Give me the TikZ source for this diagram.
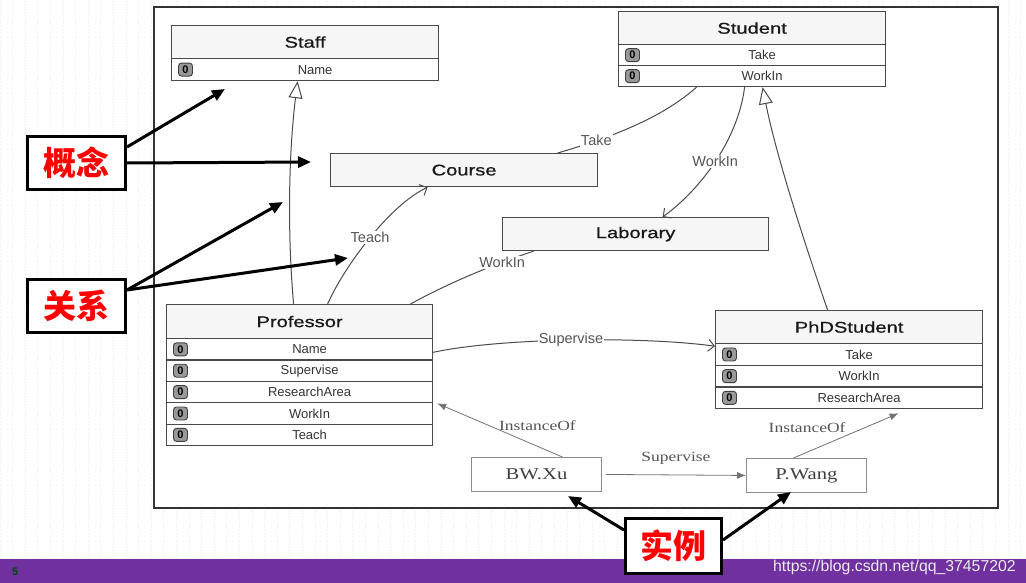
\documentclass[tikz,border=0pt]{standalone}
\usepackage{fontspec}
\setmainfont{Liberation Sans}
\newfontfamily\titlefont[FakeStretch=1.3,FakeBold=0.8]{Liberation Sans}
\newfontfamily\instfont[FakeStretch=1.25]{Liberation Serif}
\newfontfamily\cjkfont{Noto Sans CJK SC}
\usetikzlibrary{arrows.meta}
\definecolor{boxline}{HTML}{4A4A4A}
\definecolor{hdrfill}{HTML}{F6F6F6}
\definecolor{lbl}{HTML}{555555}
\definecolor{barpurple}{HTML}{7030A0}
\definecolor{gridgreen}{HTML}{DDF3DD}
\definecolor{calloutred}{HTML}{FF0000}
\tikzset{
 hdr/.style={draw=boxline, line width=1.2pt, fill=hdrfill, anchor=north west, inner sep=0pt, font=\titlefont\fontsize{15.5}{18}\selectfont, text=black!90},
 row/.style={draw=boxline, line width=1.2pt, fill=white, anchor=north west, inner sep=0pt},
 rowtxt/.style={font=\fontsize{13}{15}\selectfont, text=black!80, inner sep=0pt},
 icon/.style={draw=black!75, fill=black!40, rounded corners=3pt, minimum width=14pt, minimum height=13pt, inner sep=0pt, line width=0.9pt, font=\bfseries\fontsize{11}{11}\selectfont, text=black},
 edgelbl/.style={font=\fontsize{14.5}{17}\selectfont, text=lbl, fill=white, inner sep=1pt},
 inst/.style={draw=black!45, line width=0.9pt, fill=white, anchor=north west, inner sep=0pt, font=\instfont\fontsize{16.5}{19}\selectfont, text=black!75},
 instlbl/.style={font=\instfont\fontsize{14}{16}\selectfont, text=lbl, inner sep=0pt},
 conn/.style={draw=black!70, line width=1pt},
 gen/.style={conn, -{Triangle[open, length=17pt, width=14pt]}},
 assoc/.style={conn, -{Straight Barb[length=6pt, width=12pt]}},
 instarrow/.style={draw=black!55, line width=0.8pt, -{Latex[length=9pt, width=7pt]}},
 callout/.style={draw=black, line width=3pt, fill=white, anchor=north west, inner sep=0pt, font=\cjkfont\bfseries\fontsize{33}{36}\selectfont, text=calloutred},
 bigarrow/.style={draw=black, line width=3pt, -{Triangle[length=13pt, width=11pt]}},
}
\newcommand\umlrow[6]{%
 \node[row, minimum width=#4pt, minimum height=#5pt] (#1) at (#2,#3) {};
 \node[icon] (#1-i) at ([xshift=14.5pt]#1.west) {0};
 \node[rowtxt] (#1-t) at ([xshift=10pt]#1.center) {#6};
}
\begin{document}
\begin{tikzpicture}[x=1pt,y=-1pt]
\useasboundingbox (0,0) rectangle (1026,583);
% background
\fill[white] (0,0) rectangle (1026,583);
\draw[gridgreen, dotted, line width=0.8pt, step=12.6] (0,0) grid (1026,559);
\fill[white] (154,7) rectangle (998,508);
\draw[black!80, line width=2pt] (154,7) rectangle (998,508);
\fill[barpurple] (0,559) rectangle (1026,583);
\node[anchor=base west, font=\fontsize{15.8}{18}\selectfont, text=white!85!gray, inner sep=0pt] (wm) at (773,571) {https://blog.csdn.net/qq\_37457202};
\node[anchor=north west, font=\bfseries\fontsize{11}{11}\selectfont, text=green!30!black, inner sep=0pt] (pgnum) at (12,568) {5};

% classes
\node[hdr, minimum width=267pt, minimum height=33pt] (staffH) at (171,25) {Staff};
\umlrow{staffR1}{171}{58}{267}{22}{Name}

\node[hdr, minimum width=267pt, minimum height=33pt] (stuH) at (618,11) {Student};
\umlrow{stuR1}{618}{44}{267}{21}{Take}
\umlrow{stuR2}{618}{65}{267}{21}{WorkIn}

\node[hdr, minimum width=267pt, minimum height=33pt] (course) at (330,153) {Course};
\node[hdr, minimum width=266pt, minimum height=33pt] (lab) at (502,217) {Laborary};

\node[hdr, minimum width=266pt, minimum height=34pt] (profH) at (166,304) {Professor};
\umlrow{profR1}{166}{338}{266}{21.4}{Name}
\umlrow{profR2}{166}{359.4}{266}{21.4}{Supervise}
\umlrow{profR3}{166}{380.8}{266}{21.4}{ResearchArea}
\umlrow{profR4}{166}{402.2}{266}{21.4}{WorkIn}
\umlrow{profR5}{166}{423.6}{266}{21.4}{Teach}

\node[hdr, minimum width=267pt, minimum height=33pt] (phdH) at (715,310) {PhDStudent};
\umlrow{phdR1}{715}{343}{267}{21.7}{Take}
\umlrow{phdR2}{715}{364.7}{267}{21.7}{WorkIn}
\umlrow{phdR3}{715}{386.4}{267}{21.7}{ResearchArea}

\node[inst, minimum width=130pt, minimum height=34pt] (bw) at (471,457) {BW.Xu};
\node[inst, minimum width=120pt, minimum height=34pt] (pw) at (746,458) {P.Wang};

% connectors
\draw[gen] ([xshift=-6pt]profH.north) .. controls (287,230) and (289,150) .. ([xshift=-7.5pt]staffR1.south);
\draw[conn] ([xshift=-55.5pt]stuR2.south) .. controls (665,115) and (620,135) .. node[edgelbl, pos=0.78] (lTake) {Take} ([xshift=93.5pt]course.north);
\draw[assoc] ([xshift=-7.5pt]stuR2.south) .. controls (738,140) and (700,190) .. node[edgelbl, pos=0.5] (lWork1) {WorkIn} ([xshift=27pt]lab.north);
\draw[gen] ([xshift=-21.5pt]phdH.north) .. controls (800,230) and (775,150) .. ([xshift=10.5pt]stuR2.south);
\draw[assoc] ([xshift=28pt]profH.north) .. controls (345,265) and (390,205) .. node[edgelbl, pos=0.5] (lTeach) {Teach} ([xshift=-36.5pt]course.south);
\draw[conn] ([xshift=111pt]profH.north) .. controls (450,282) and (500,262) .. node[edgelbl, pos=0.72] (lWork2) {WorkIn} ([xshift=-102pt]lab.south);
\draw[assoc] ([yshift=-3pt]profR1.east) .. controls (500,338) and (640,336) .. node[edgelbl, pos=0.5] (lSup) {Supervise} ([yshift=-2pt]phdH.south west);
\draw[instarrow] ([xshift=26pt]bw.north) -- node[instlbl, pos=0.2, yshift=21pt] (lInst1) {InstanceOf} ([xshift=4pt]profR3.south east);
\draw[instarrow] ([xshift=-13pt]pw.north) -- node[instlbl, pos=0.13, yshift=25pt] (lInst2) {InstanceOf} ([xshift=49.5pt, yshift=-4pt]phdR3.south);
\draw[instarrow] ([xshift=4pt]bw.east) -- node[instlbl, midway, yshift=17pt] (lSup2) {Supervise} (pw.west);

% callouts
\coordinate (p1) at (225,89);
\coordinate (p2) at (311,162);
\coordinate (p3) at (283,202);
\coordinate (p4) at (348,258);
\coordinate (p5) at (568,496);
\coordinate (p6) at (791,492);
\node[callout, minimum width=98pt, minimum height=53pt] (gainian) at (26,135) {概念};
\node[callout, minimum width=98pt, minimum height=53pt] (guanxi) at (26,278) {关系};
\node[callout, minimum width=96pt, minimum height=55pt] (shili) at (624,517) {实例};
\draw[bigarrow] ([yshift=-12pt]gainian.north east) -- (p1);
\draw[bigarrow] (gainian.east) -- (p2);
\draw[bigarrow] ([yshift=-12pt]guanxi.north east) -- (p3);
\draw[bigarrow] ([yshift=-12pt]guanxi.north east) -- (p4);
\draw[bigarrow] ([yshift=-13pt]shili.north west) -- (p5);
\draw[bigarrow] ([yshift=-23pt]shili.north east) -- (p6);
\end{tikzpicture}
\end{document}
